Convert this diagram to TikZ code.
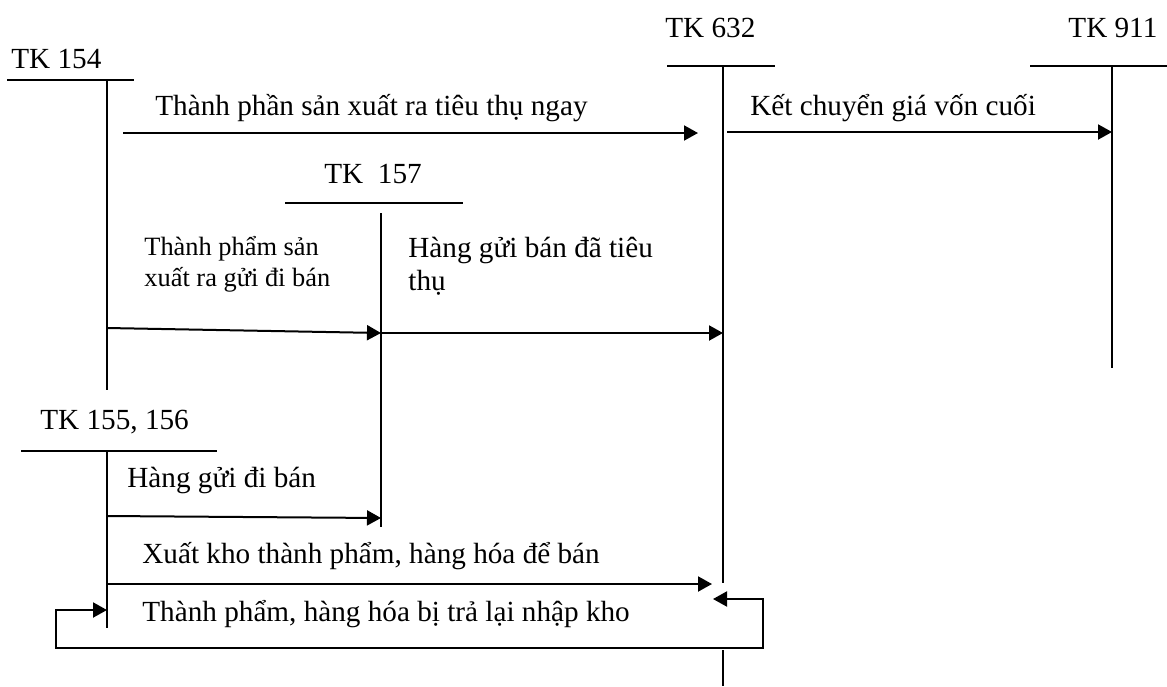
\documentclass[tikz,border=0pt]{standalone}
\usepackage{fontspec}
\setmainfont{Liberation Serif}
\usetikzlibrary{arrows.meta}

\begin{document}
\begin{tikzpicture}[x=0.5pt,y=-0.5pt,>={Triangle[length=7pt,width=7.5pt]},
  tline/.style={line width=1pt},
  flow/.style={->,line width=1pt},
  lbl/.style={anchor=base west,inner sep=0pt,font=\fontsize{14.6}{17}\selectfont},
  note/.style={lbl,align=left}]
  \useasboundingbox (0,0) rectangle (1167,686);
  % accounts
  \node[lbl] (t154) at (11,68) {TK 154};
  \node[lbl] (t632) at (665,37) {TK 632};
  \node[lbl] (t911) at (1068,37) {TK 911};
  \node[lbl] (t157) at (324,183) {TK\ \ 157};
  \node[lbl] (t155) at (40,429) {TK 155, 156};
  \draw[tline] (7,80) -- (134,80) (107,80) -- (107,390);
  \draw[tline] (667,66) -- (775,66) (723,66) -- (723,583) (723,650) -- (723,686);
  \draw[tline] (1030,66) -- (1167,66) (1112,66) -- (1112,368);
  \draw[tline] (285,203) -- (463,203) (381,213) -- (381,527);
  \draw[tline] (21,451) -- (217,451) (107,451) -- (107,628);
  % entry points
  \coordinate (s1) at (123,133);  \coordinate (e1) at (698,133);
  \coordinate (s2) at (727,132);  \coordinate (e2) at (1112,132);
  \coordinate (s3) at (107,328);  \coordinate (e3) at (381,333);
  \coordinate (e4) at (723,333);
  \coordinate (s5) at (107,516);  \coordinate (e5) at (381,518);
  \coordinate (s6) at (107,584);  \coordinate (e6) at (712,584);
  \coordinate (rs) at (107,610);  \coordinate (re) at (713,599);
  \coordinate (rb) at (763,648);
  % flows
  \draw[flow] (s1) -- (e1);
  \node[lbl] (l1) at (155,115) {Thành phần sản xuất ra tiêu thụ ngay};
  \draw[flow] (s2) -- (e2);
  \node[lbl] (l2) at (750,115) {Kết chuyển giá vốn cuối};
  \draw[flow] (s3) -- (e3);
  \node[note,font=\fontsize{13.2}{15.5}\selectfont] (l3) at (144,286) {Thành phẩm sản\\xuất ra gửi đi bán};
  \draw[flow] (e3) -- (e4);
  \node[note,font=\fontsize{14.6}{16.5}\selectfont] (l4) at (408,290) {Hàng gửi bán đã tiêu\\thụ};
  \draw[flow] (s5) -- (e5);
  \node[lbl] (l5) at (127,487) {Hàng gửi đi bán};
  \draw[flow] (s6) -- (e6);
  \node[lbl] (l6) at (142,563) {Xuất kho thành phẩm, hàng hóa để bán};
  \draw[<->,line width=1pt] (rs) -- ++(-51,0) |- (rb) |- (re);
  \node[lbl] (l7) at (142,621) {Thành phẩm, hàng hóa bị trả lại nhập kho};
\end{tikzpicture}
\end{document}
